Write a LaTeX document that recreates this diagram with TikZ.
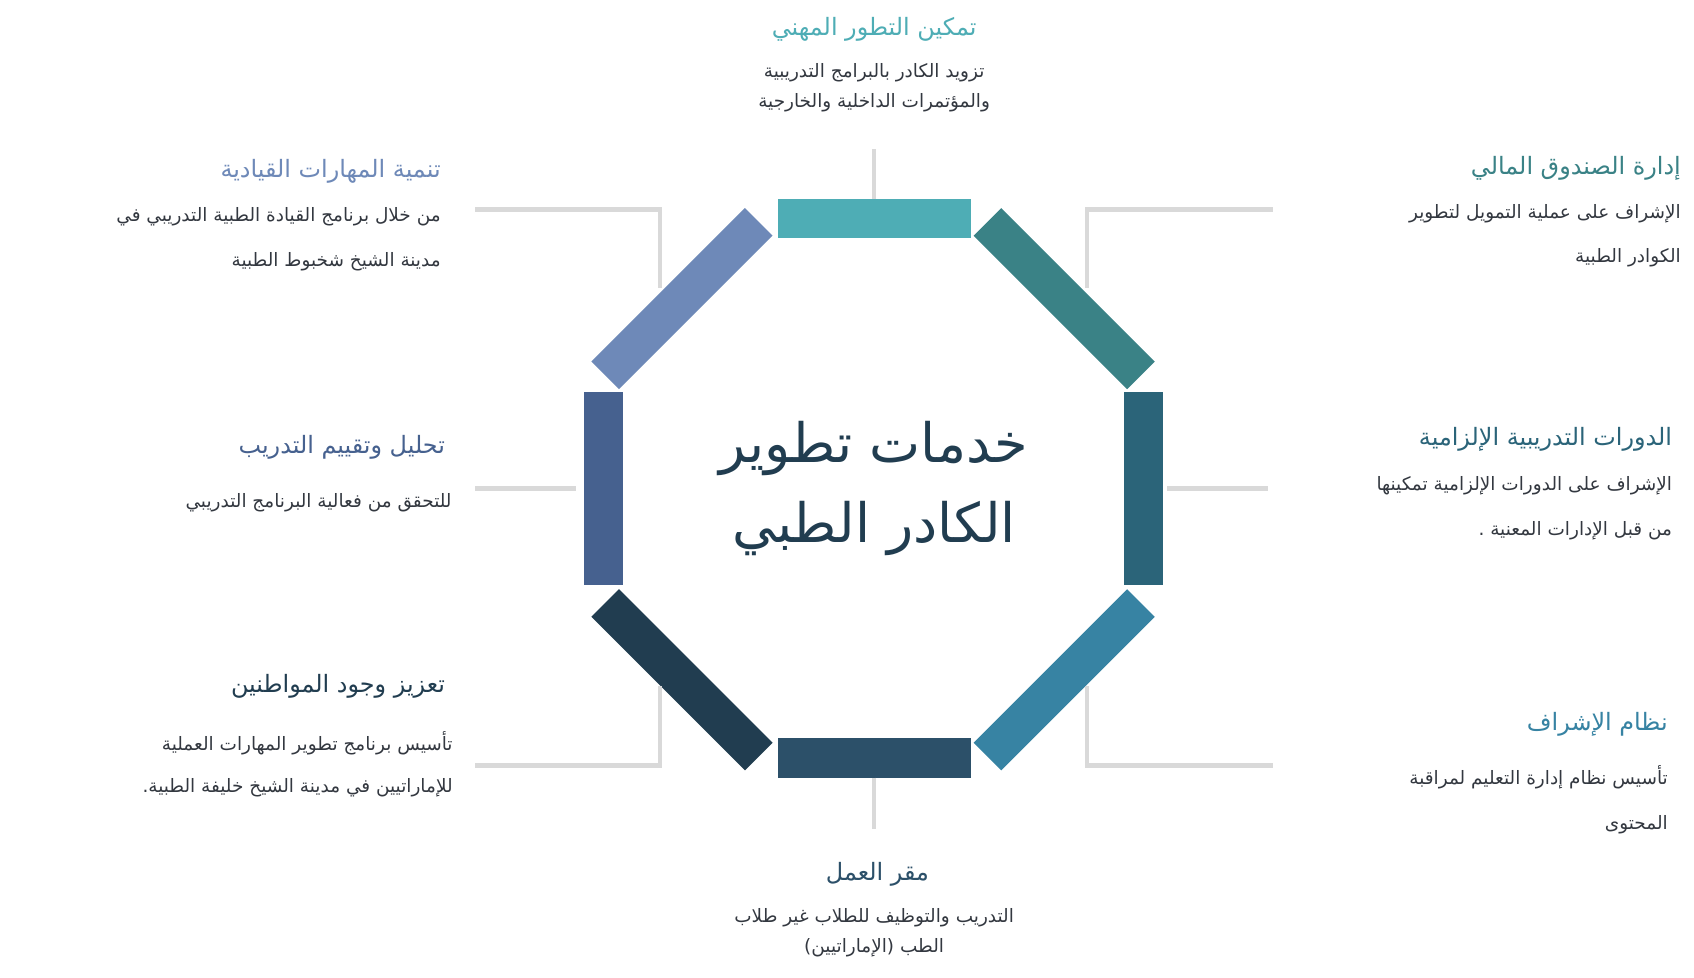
\documentclass[tikz,border=0pt]{standalone}
\usepackage{fontspec}
\newfontfamily\arabicfont[Script=Arabic]{DejaVu Sans}
\TeXXeTstate=1
\newcommand{\artxt}[1]{\beginR #1\endR}
\definecolor{cTop}{HTML}{4EADB5}
\definecolor{cTR}{HTML}{3A8286}
\definecolor{cR}{HTML}{2B6479}
\definecolor{cBR}{HTML}{3783A3}
\definecolor{cB}{HTML}{2C5069}
\definecolor{cBL}{HTML}{213D50}
\definecolor{cL}{HTML}{46618F}
\definecolor{cTL}{HTML}{6E89B8}
\definecolor{cGray}{HTML}{D9D9D9}
\definecolor{cText}{HTML}{333840}
\tikzset{
  bar/.style={fill=#1, draw=none, minimum width=178pt, minimum height=36pt, inner sep=0pt},
  link/.style={draw=cGray, line width=4pt},
  ttl/.style={font=\arabicfont\fontsize{22}{26}\selectfont, text=#1, inner sep=0pt},
  bodytxt/.style={font=\arabicfont\fontsize{17}{#1}\selectfont, text=cText, inner sep=0pt}
}
\begin{document}
\begin{tikzpicture}[x=1pt,y=-1pt]
  \useasboundingbox[fill=white] (0,0) rectangle (1560,900);

  % octagon bars
  \node[bar=cTop] (barT) at (805,201) {};
  \node[bar=cB] (barB) at (805,698) {};
  \node[bar=cR, rotate=90] (barR) at (1053,450) {};
  \node[bar=cL, rotate=90] (barL) at (556,450) {};
  \node[bar=cTR, minimum width=200pt, rotate=-45] (barTR) at (980,275) {};
  \node[bar=cTL, minimum width=200pt, rotate=45] (barTL) at (628,275) {};
  \node[bar=cBR, minimum width=200pt, rotate=45] (barBR) at (980,626) {};
  \node[bar=cBL, minimum width=200pt, rotate=-45] (barBL) at (628,626) {};

  % connectors
  \coordinate (eT) at (805,137);
  \coordinate (eB) at (805,763);
  \coordinate (eR) at (1168,450);
  \coordinate (eL) at (437,450);
  \coordinate (eTR) at (1172,193);
  \coordinate (eTL) at (437,193);
  \coordinate (eBR) at (1172,705);
  \coordinate (eBL) at (437,705);
  \draw[link] (barT.north) -- (eT);
  \draw[link] (barB.south) -- (eB);
  \draw[link] (1075,450) -- (eR);
  \draw[link] (530,450) -- (eL);
  \draw[link] (1001,265) |- (eTR);
  \draw[link] (608,265) |- (eTL);
  \draw[link] (1001,632) |- (eBR);
  \draw[link] (608,632) |- (eBL);

  % centre
  \node[font=\arabicfont\fontsize{50}{74}\selectfont, text=cBL, align=center] (core) at (805,450)
    {\artxt{خدمات تطوير}\\\artxt{الكادر الطبي}};

  % top
  \node[ttl=cTop] (tT) at (805,27) {\artxt{تمكين التطور المهني}};
  \node[bodytxt=28, align=center, anchor=north] (bT) at (805,58)
    {\artxt{تزويد الكادر بالبرامج التدريبية}\\\artxt{والمؤتمرات الداخلية والخارجية}};

  % top right
  \node[ttl=cTR, anchor=east] (tTR) at (1548,155) {\artxt{إدارة الصندوق المالي}};
  \node[bodytxt=41, align=right, anchor=north east] (bTR) at (1548,188)
    {\artxt{الإشراف على عملية التمويل  لتطوير}\\\artxt{الكوادر الطبية}};

  % right
  \node[ttl=cR, anchor=east] (tR) at (1540,405) {\artxt{الدورات التدريبية الإلزامية}};
  \node[bodytxt=41, align=right, anchor=north east] (bR) at (1540,439)
    {\artxt{الإشراف على الدورات الإلزامية تمكينها}\\\artxt{من قبل الإدارات المعنية .}};

  % bottom right
  \node[ttl=cBR, anchor=east] (tBR) at (1536,667) {\artxt{نظام الإشراف}};
  \node[bodytxt=41, align=right, anchor=north east] (bBR) at (1536,705)
    {\artxt{تأسيس نظام إدارة التعليم لمراقبة}\\\artxt{المحتوى}};

  % bottom
  \node[ttl=cB] (tB) at (808,805) {\artxt{مقر العمل}};
  \node[bodytxt=28, align=center, anchor=north] (bB) at (805,836)
    {\artxt{التدريب والتوظيف للطلاب غير طلاب}\\\artxt{الطب (الإماراتيين)}};

  % bottom left
  \node[ttl=cBL, anchor=east] (tBL) at (410,632) {\artxt{تعزيز وجود المواطنين}};
  \node[bodytxt=39, align=right, anchor=north east] (bBL) at (417,673)
    {\artxt{تأسيس برنامج تطوير المهارات العملية}\\\artxt{للإماراتيين في مدينة الشيخ خليفة الطبية.}};

  % left
  \node[ttl=cL, anchor=east] (tL) at (410,412) {\artxt{تحليل وتقييم التدريب}};
  \node[bodytxt=41, align=right, anchor=north east] (bL) at (416,454)
    {\artxt{للتحقق من فعالية البرنامج التدريبي}};

  % top left
  \node[ttl=cTL, anchor=east] (tTL) at (406,158) {\artxt{تنمية المهارات القيادية}};
  \node[bodytxt=41, align=right, anchor=north east] (bTL) at (406,191)
    {\artxt{من خلال برنامج القيادة الطبية التدريبي في}\\\artxt{مدينة الشيخ شخبوط الطبية}};
\end{tikzpicture}
\end{document}
